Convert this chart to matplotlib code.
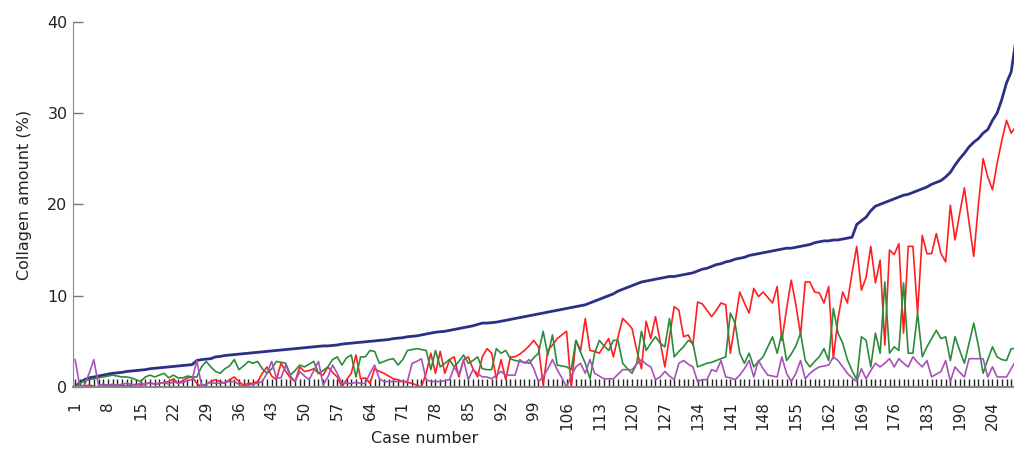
import numpy as np
import matplotlib
matplotlib.use("Agg")
import matplotlib.pyplot as plt
from matplotlib.ticker import FixedLocator

# values, one per case
total = [
    0.0, 0.5, 0.8, 1.0, 1.1, 1.2, 1.3, 1.4, 1.5, 1.55,
    1.6, 1.7, 1.75, 1.8, 1.85, 1.9, 2.0, 2.05, 2.1, 2.15,
    2.2, 2.25, 2.3, 2.35, 2.4, 2.45, 2.9, 3.0, 3.05, 3.1,
    3.3, 3.35, 3.45, 3.5, 3.55, 3.6, 3.65, 3.7, 3.75, 3.8,
    3.85, 3.9, 3.95, 4.0, 4.05, 4.1, 4.15, 4.2, 4.25, 4.3,
    4.35, 4.4, 4.45, 4.5, 4.5, 4.55, 4.6, 4.7, 4.75, 4.8,
    4.85, 4.9, 4.95, 5.0, 5.05, 5.1, 5.15, 5.2, 5.3, 5.35,
    5.4, 5.5, 5.55, 5.6, 5.7, 5.8, 5.9, 6.0, 6.05, 6.1,
    6.2, 6.3, 6.4, 6.5, 6.6, 6.7, 6.85, 7.0, 7.0, 7.05,
    7.1, 7.2, 7.3, 7.4, 7.5, 7.6, 7.7, 7.8, 7.9, 8.0,
    8.1, 8.2, 8.3, 8.4, 8.5, 8.6, 8.7, 8.8, 8.9, 9.0,
    9.2, 9.4, 9.6, 9.8, 10.0, 10.2, 10.5, 10.7, 10.9, 11.1,
    11.3, 11.5, 11.6, 11.7, 11.8, 11.9, 12.0, 12.1, 12.1, 12.2,
    12.3, 12.4, 12.5, 12.7, 12.9, 13.0, 13.2, 13.4, 13.5, 13.7,
    13.8, 14.0, 14.1, 14.2, 14.4, 14.5, 14.6, 14.7, 14.8, 14.9,
    15.0, 15.1, 15.2, 15.2, 15.3, 15.4, 15.5, 15.6, 15.8, 15.9,
    16.0, 16.0, 16.1, 16.1, 16.2, 16.3, 16.4, 17.8, 18.2, 18.6,
    19.3, 19.8, 20.0, 20.2, 20.4, 20.6, 20.8, 21.0, 21.1, 21.3,
    21.5, 21.7, 21.9, 22.2, 22.4, 22.6, 23.0, 23.5, 24.3, 25.0,
    25.6, 26.3, 26.8, 27.2, 27.8, 28.2, 29.2, 30.0, 31.5, 33.3,
    34.5, 38.0,
]

red = [
    0.1, 0.0, 0.1, 0.2, 0.1, 0.0, 0.1, 0.2, 0.1, 0.1,
    0.2, 0.1, 0.2, 0.3, 0.2, 0.3, 0.5, 0.3, 0.4, 0.5,
    0.6, 0.9, 0.4, 0.7, 1.0, 1.1, 0.4, 0.0, 0.3, 0.6,
    0.8, 0.6, 0.4, 0.8, 1.1, 0.6, 0.2, 0.4, 0.4, 0.6,
    1.5, 2.2, 1.2, 0.8, 2.6, 1.7, 1.0, 0.6, 2.2, 1.7,
    1.8, 2.0, 1.5, 1.3, 2.2, 1.6, 1.1, 0.0, 0.8, 1.5,
    3.5, 0.9, 1.0, 0.4, 2.0, 1.7, 1.5, 1.2, 0.9, 0.8,
    0.6, 0.5, 0.4, 0.2, 0.0, 1.5, 3.7, 1.5, 3.9, 1.5,
    3.0, 3.3, 1.1, 3.0, 3.3, 2.0, 1.1, 3.3, 4.2, 3.7,
    0.9, 3.0, 0.8, 3.3, 3.3, 3.6, 4.0, 4.5, 5.1, 4.4,
    0.2, 4.0, 4.6, 5.3, 5.7, 6.1, 0.0, 5.1, 4.0, 7.5,
    4.0, 3.9, 3.7, 4.5, 5.3, 3.3, 5.5, 7.5, 7.0, 6.4,
    4.0, 2.0, 7.2, 5.3, 7.7, 5.0, 2.2, 5.5, 8.8, 8.4,
    5.5, 5.7, 4.6, 9.3, 9.1, 8.4, 7.7, 8.4, 9.2, 9.0,
    3.7, 7.0, 10.4, 9.2, 8.1, 10.8, 9.9, 10.4, 9.8, 9.2,
    11.0, 5.1, 8.5, 11.7, 9.0, 5.7, 11.5, 11.5, 10.4, 10.3,
    9.2, 11.0, 3.1, 7.5, 10.4, 9.2, 12.5, 15.4, 10.6, 12.0,
    15.4, 11.4, 13.9, 4.6, 15.0, 14.5, 15.7, 5.9, 15.4, 15.4,
    8.1, 16.6, 14.6, 14.6, 16.8, 14.6, 13.7, 19.9, 16.1, 19.0,
    21.8, 18.0, 14.3, 20.0, 25.0, 23.0, 21.6, 24.5, 27.0, 29.2,
    27.8, 28.5,
]

green = [
    0.0, 0.4, 0.7, 0.8, 0.9, 1.0, 1.1, 1.2, 1.3, 1.2,
    1.1, 1.1, 1.0, 0.8, 0.6, 1.1, 1.3, 1.1, 1.3, 1.5,
    1.0, 1.3, 1.0, 1.0, 1.2, 1.1, 1.1, 2.2, 2.8, 2.2,
    1.7, 1.5, 2.0, 2.3, 3.0, 1.9, 2.3, 2.8, 2.6, 2.8,
    2.0, 1.5, 2.0, 2.8, 2.7, 2.6, 1.3, 1.8, 2.4, 2.2,
    2.5, 2.8, 1.5, 1.8, 2.2, 3.0, 3.3, 2.4, 3.2, 3.5,
    1.1, 3.3, 3.3, 4.0, 3.9, 2.6, 2.8, 3.0, 3.1, 2.4,
    3.0, 4.0, 4.1, 4.2, 4.1, 4.0, 1.9, 4.0, 2.2, 2.6,
    3.0, 2.2, 2.8, 3.5, 2.6, 2.9, 3.3, 2.0, 1.9, 1.9,
    4.2, 3.7, 4.0, 3.1, 2.9, 2.8, 2.7, 2.6, 3.2, 3.7,
    6.1, 3.5, 5.7, 2.4, 2.3, 2.2, 1.9, 5.1, 3.8, 2.6,
    0.9, 3.7, 5.1, 4.5, 4.0, 5.1, 5.1, 2.6, 2.0, 1.5,
    2.6, 6.1, 4.0, 4.8, 5.5, 4.8, 4.4, 7.5, 3.3, 3.9,
    4.4, 5.1, 4.8, 2.2, 2.4, 2.6, 2.7, 2.9, 3.1, 3.3,
    8.1, 7.0, 3.7, 2.6, 3.7, 2.2, 2.8, 3.3, 4.4, 5.5,
    3.7, 5.9, 2.9, 3.6, 4.5, 5.9, 2.9, 2.2, 2.8, 3.3,
    4.2, 2.9, 8.6, 5.9, 4.8, 3.0, 1.8, 0.8, 5.5, 5.1,
    2.2, 5.9, 3.7, 11.5, 3.7, 4.4, 4.0, 11.4, 3.7, 3.7,
    8.1, 3.3, 4.4, 5.3, 6.2, 5.3, 5.5, 2.9, 5.5, 4.0,
    2.6, 4.8, 7.0, 4.5, 1.5, 3.0, 4.4, 3.3, 3.0, 2.9,
    4.2, 4.2,
]

purple = [
    3.0, 0.1, 0.2, 1.5, 3.0, 0.2, 0.3, 0.2, 0.3, 0.2,
    0.3, 0.4, 0.3, 0.2, 0.4, 0.3, 0.5, 0.3, 0.4, 0.5,
    0.3, 0.6, 0.4, 0.5, 0.7, 0.8, 2.9, 0.2, 0.3, 0.5,
    0.4, 0.4, 0.5, 0.6, 0.6, 0.3, 0.0, 0.2, 0.3, 0.4,
    0.6, 1.5, 2.8, 1.0, 1.0, 2.4, 1.2, 0.6, 1.7, 1.2,
    0.8, 1.8, 2.8, 0.2, 1.1, 2.4, 1.5, 0.4, 0.4, 0.4,
    0.5, 0.4, 0.4, 1.5, 2.4, 0.9, 0.6, 0.6, 0.6, 0.6,
    0.6, 0.6, 2.6, 2.8, 3.1, 0.8, 0.6, 0.6, 0.6, 0.7,
    0.8, 2.2, 1.3, 3.0, 0.8, 1.9, 1.5, 1.1, 1.1, 0.9,
    1.3, 1.7, 1.3, 1.3, 1.3, 3.0, 2.6, 3.0, 2.0, 0.6,
    1.1, 2.0, 3.0, 1.9, 1.0, 0.0, 1.2, 2.2, 2.6, 1.5,
    3.0, 1.5, 1.2, 0.9, 0.9, 0.9, 1.4, 1.9, 1.9, 1.9,
    2.5, 3.0, 2.5, 2.2, 0.8, 1.1, 1.7, 1.2, 0.8, 2.6,
    2.9, 2.5, 2.2, 0.6, 0.8, 0.8, 1.9, 1.7, 2.9, 1.1,
    1.0, 0.8, 1.3, 2.0, 2.9, 1.1, 2.9, 2.0, 1.3, 1.2,
    1.1, 3.3, 1.5, 0.6, 1.5, 2.9, 0.9, 1.5, 1.9, 2.2,
    2.3, 2.4, 3.3, 2.9, 2.2, 1.5, 1.0, 0.6, 2.0, 0.9,
    1.8, 2.6, 2.2, 2.6, 3.1, 2.2, 3.1, 2.6, 2.2, 3.3,
    2.7, 2.2, 2.9, 1.1, 1.4, 1.7, 2.9, 0.6, 2.2, 1.6,
    1.1, 3.1, 3.1, 3.1, 3.1, 1.1, 2.2, 1.1, 1.1, 1.1,
    2.0, 2.9,
]

label_pos = list(range(1, 198, 7))
label_txt = [str(p) for p in range(1, 191, 7)] + ["204"]

fig = plt.figure(figsize=(10.14, 4.5), dpi=100)
ax = fig.add_axes([73 / 1014, 1 - 387 / 450, 1 - 73 / 1014, (387 - 21.7) / 450])

series = [(total, "#2b2f86", 2.0), (red, "#ff1f1f", 1.2),
          (green, "#2a8c3a", 1.2), (purple, "#a653b8", 1.2)]
for vals, col, lw in series:
    ax.plot(np.arange(1, len(vals) + 1), vals, color=col, lw=lw)

ax.set_xlim(0.55, 201.6)
ax.set_ylim(0, 40)
ax.set_yticks([0, 10, 20, 30, 40])
ax.xaxis.set_major_locator(FixedLocator(label_pos))
ax.set_xticklabels(label_txt, rotation=90, fontsize=11, color="#222222")
ax.xaxis.set_minor_locator(FixedLocator(range(1, len(total) + 1)))

ax.tick_params(axis="x", which="both", direction="in", length=6, width=1,
               color="#222222", pad=10)
ax.tick_params(axis="y", direction="in", length=7, width=1, color="#777777",
               labelsize=11.5, labelcolor="#222222", pad=4)

for s in ["top", "right"]:
    ax.spines[s].set_visible(False)
ax.spines["left"].set_color("#888888")
ax.spines["bottom"].set_color("#888888")
ax.spines["bottom"].set_linewidth(1.5)

ax.set_xlabel("Case number", fontsize=11.5, color="#222222")
ax.xaxis.set_label_coords((425 - 73) / 941, -0.12)
ax.set_ylabel("Collagen amount (%)", fontsize=11.5, color="#222222")
ax.yaxis.set_label_coords(-0.044, 0.526)

fig.savefig("out.png", dpi=100)
